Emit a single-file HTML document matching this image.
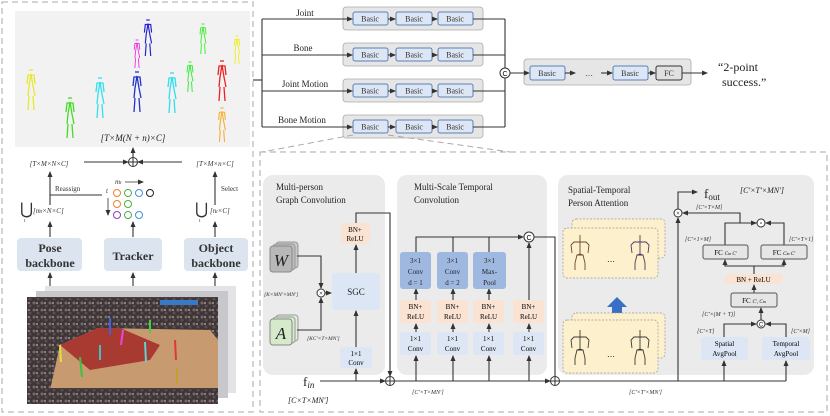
<!DOCTYPE html>
<html><head><meta charset="utf-8"><style>
html,body{margin:0;padding:0;background:#fff;}
svg{display:block;font-family:"Liberation Serif",serif;}
.t{font-size:9px;fill:#222}
.s{font-size:7px;fill:#333;font-style:italic}
.ln{stroke:#333;stroke-width:1.1;fill:none}
</style></head><body>
<svg width="830" height="416" viewBox="0 0 830 416" xmlns="http://www.w3.org/2000/svg">
<defs>
<marker id="a" markerWidth="6" markerHeight="6" refX="5" refY="3" orient="auto" markerUnits="userSpaceOnUse"><path d="M0,0.5 L6,3 L0,5.5z" fill="#333"/></marker>
<pattern id="crowd" width="8" height="7" patternUnits="userSpaceOnUse">
<rect width="8" height="7" fill="#3e3638"/><circle cx="2" cy="2" r="1.5" fill="#7a6a66"/><circle cx="6" cy="5" r="1.5" fill="#5a4e50"/><rect x="4" y="1" width="2" height="2" fill="#8a8080"/>
</pattern>
<g id="fig" fill="none" stroke-width="1.3">
<line x1="-2" y1="0" x2="2" y2="0"/>
<polyline points="-3,26 -2,16 0,4 2,16 4,26"/>
<polyline points="-4,14 -3,5 3,5 4,14"/>
<line x1="-2" y1="26" x2="-3" y2="40"/><line x1="2" y1="26" x2="3" y2="40"/>
</g>
<g id="sk" fill="none" stroke-width="0.9">
<polyline points="0,0 0,6 0,19"/><polyline points="-8,18 -9,10 -6,7 6,7 9,10 8,18"/>
<polyline points="-5,35 -5,28 -3,20 3,20 5,28 5,35"/><line x1="0" y1="19" x2="-3" y2="20"/><line x1="0" y1="19" x2="3" y2="20"/>
</g>
</defs>

<rect x="2" y="2" width="251" height="410" fill="none" stroke="#aaa" stroke-dasharray="6,4"/>
<rect x="15" y="11" width="235" height="136" fill="#f2f2f2"/>
<g transform="translate(31,70)" stroke="#e8e830"><use href="#fig"/></g>
<g transform="translate(70,98)" stroke="#44dd22"><use href="#fig"/></g>
<g transform="translate(100,78)" stroke="#33e0f0"><use href="#fig"/></g>
<g transform="translate(137,72)" stroke="#2233cc"><use href="#fig"/></g>
<g transform="translate(137,40) scale(0.7)" stroke="#ee33dd"><use href="#fig"/></g>
<g transform="translate(148,20) scale(0.9)" stroke="#2222cc"><use href="#fig"/></g>
<g transform="translate(172,73)" stroke="#33ddee"><use href="#fig"/></g>
<g transform="translate(190,62) scale(0.75)" stroke="#33ee33"><use href="#fig"/></g>
<g transform="translate(203,24) scale(0.75)" stroke="#44ee33"><use href="#fig"/></g>
<g transform="translate(237,36) scale(0.7)" stroke="#eeee22"><use href="#fig"/></g>
<g transform="translate(222,61)" stroke="#ee2222"><use href="#fig"/></g>
<g transform="translate(222,108) scale(0.85)" stroke="#f5b030"><use href="#fig"/></g>
<text x="133" y="141" class="t" text-anchor="middle" font-style="italic">[T×M(N + n)×C]</text>

<circle cx="133" cy="162" r="4.5" fill="#fff" stroke="#333"/><path d="M128.5,162h9M133,157.5v9" stroke="#333"/>
<line x1="133" y1="157" x2="133" y2="148" class="ln" marker-end="url(#a)"/>
<line x1="84" y1="162" x2="128" y2="162" class="ln" marker-end="url(#a)"/>
<line x1="182" y1="162" x2="138" y2="162" class="ln" marker-end="url(#a)"/>
<text x="49" y="166" class="s" text-anchor="middle">[T×M×N×C]</text>
<text x="215" y="166" class="s" text-anchor="middle">[T×M×n×C]</text>
<line x1="50" y1="205" x2="50" y2="172" class="ln" marker-end="url(#a)"/>
<line x1="215" y1="205" x2="215" y2="172" class="ln" marker-end="url(#a)"/>
<polyline points="102,195 50,195" class="ln"/>
<text x="55" y="191" font-size="7" fill="#333">Reassign</text>
<text x="221" y="191" font-size="7" fill="#333">Select</text>
<text x="20" y="214" font-size="16" fill="#333">⋃</text><text x="24" y="222" font-size="5" fill="#333">t</text>
<text x="33" y="213" class="s">[m<tspan font-size="5">t</tspan>×N×C]</text>
<text x="195" y="214" font-size="16" fill="#333">⋃</text><text x="199" y="222" font-size="5" fill="#333">t</text>
<text x="210" y="213" class="s">[n<tspan font-size="5">t</tspan>×C]</text>
<text x="115" y="184" class="s">m<tspan font-size="5">t</tspan></text>
<line x1="125" y1="182" x2="143" y2="182" stroke="#333" stroke-width="0.8" marker-end="url(#a)"/>
<text x="106" y="193" class="s">t</text>
<line x1="108" y1="198" x2="108" y2="215" stroke="#333" stroke-width="0.8" marker-end="url(#a)"/>
<g fill="none" stroke-width="1">
<circle cx="117" cy="193" r="3.5" stroke="#f08030"/><circle cx="128" cy="193" r="3.5" stroke="#50b040"/><circle cx="139" cy="193" r="3.5" stroke="#4090e0"/><circle cx="150" cy="193" r="3.5" stroke="#222"/>
<circle cx="117" cy="204" r="3.5" stroke="#f08030"/><circle cx="128" cy="204" r="3.5" stroke="#50b040"/>
<circle cx="117" cy="215" r="3.5" stroke="#9040c0"/><circle cx="128" cy="215" r="3.5" stroke="#50b040"/><circle cx="139" cy="215" r="3.5" stroke="#4090e0"/>
</g>
<line x1="133" y1="237" x2="133" y2="222" class="ln" marker-end="url(#a)"/>
<line x1="50" y1="237" x2="50" y2="222" class="ln" marker-end="url(#a)"/>
<line x1="215" y1="237" x2="215" y2="222" class="ln" marker-end="url(#a)"/>
<rect x="17" y="238" width="65" height="33" rx="4" fill="#dce4f0"/>
<rect x="104" y="238" width="58" height="33" rx="4" fill="#dce4f0"/>
<rect x="184" y="238" width="64" height="33" rx="4" fill="#dce4f0"/>
<g font-size="12" font-weight="bold" fill="#333" text-anchor="middle">
<text x="50" y="252">Pose</text><text x="50" y="267">backbone</text>
<text x="133" y="260">Tracker</text>
<text x="216" y="252">Object</text><text x="216" y="267">backbone</text></g>
<line x1="50" y1="286" x2="50" y2="273" class="ln" marker-end="url(#a)"/>
<line x1="133" y1="286" x2="133" y2="273" class="ln" marker-end="url(#a)"/>
<line x1="215" y1="286" x2="215" y2="273" class="ln" marker-end="url(#a)"/>
<rect x="45" y="286" width="191" height="107" fill="#e4e4e6"/>
<rect x="36" y="291" width="192" height="107" fill="#c8c8cc"/>
<rect x="27" y="297" width="191" height="107" fill="url(#crowd)"/>
<polygon points="60,345 98,328 210,330 218,340 218,390 50,390" fill="#c89a70"/>
<polygon points="60,345 98,328 120,328 160,345 150,360 90,370" fill="#a83a32"/>
<rect x="27" y="388" width="191" height="16" fill="url(#crowd)"/>
<rect x="160" y="300" width="38" height="5" fill="#3a78c8"/>
<g stroke-width="2" fill="none">
<line x1="110" y1="318" x2="110" y2="335" stroke="#4060e0"/><line x1="150" y1="320" x2="150" y2="333" stroke="#40d040"/>
<line x1="123" y1="330" x2="121" y2="345" stroke="#ee44dd"/><line x1="100" y1="345" x2="100" y2="360" stroke="#40c0c0"/>
<line x1="80" y1="357" x2="82" y2="377" stroke="#40c040"/><line x1="145" y1="342" x2="146" y2="362" stroke="#60d0d0"/>
<line x1="175" y1="340" x2="176" y2="360" stroke="#e03a30"/><line x1="60" y1="345" x2="61" y2="362" stroke="#e0e040"/>
<line x1="177" y1="367" x2="177" y2="383" stroke="#c0a030"/></g>

<line x1="253" y1="80" x2="262" y2="80" class="ln"/>
<line x1="262" y1="19" x2="262" y2="127" class="ln"/>
<g font-size="9" fill="#222" text-anchor="middle">
<text x="305" y="16">Joint</text><text x="303" y="51">Bone</text><text x="305" y="87">Joint Motion</text><text x="302" y="123">Bone Motion</text></g>
<g id="row">
<rect x="343" y="7" width="140" height="23" rx="3" fill="#e6e6e6" stroke="#aaa" stroke-width="0.8"/>
<rect x="353" y="12" width="35" height="13" rx="2" fill="#dce6f4" stroke="#5a80b8"/>
<rect x="396" y="12" width="36" height="13" rx="2" fill="#dce6f4" stroke="#5a80b8"/>
<rect x="438" y="12" width="35" height="13" rx="2" fill="#dce6f4" stroke="#5a80b8"/>
<g font-size="8" fill="#333" text-anchor="middle"><text x="370" y="21.5">Basic</text><text x="414" y="21.5">Basic</text><text x="455" y="21.5">Basic</text></g>
<line x1="262" y1="19" x2="352" y2="19" class="ln" marker-end="url(#a)"/>
<line x1="388" y1="19" x2="395" y2="19" class="ln" marker-end="url(#a)"/>
<line x1="432" y1="19" x2="437" y2="19" class="ln" marker-end="url(#a)"/>
<line x1="473" y1="19" x2="505" y2="19" class="ln"/>
</g>
<use href="#row" y="36"/><use href="#row" y="72"/><use href="#row" y="108"/>
<line x1="505" y1="19" x2="505" y2="127" class="ln"/>
<circle cx="505" cy="73" r="5" fill="#fff" stroke="#333"/><text x="505" y="76" font-size="7" text-anchor="middle" font-family="Liberation Sans">C</text>
<rect x="524" y="59" width="167" height="26" rx="3" fill="#e6e6e6" stroke="#aaa" stroke-width="0.8"/>
<line x1="510" y1="73" x2="529" y2="73" class="ln" marker-end="url(#a)"/>
<rect x="530" y="66" width="35" height="14" rx="2" fill="#dce6f4" stroke="#5a80b8"/>
<rect x="613" y="66" width="35" height="14" rx="2" fill="#dce6f4" stroke="#5a80b8"/>
<rect x="656" y="66" width="26" height="14" rx="2" fill="#e0e0e0" stroke="#333"/>
<g font-size="8" fill="#333" text-anchor="middle"><text x="547" y="76">Basic</text><text x="630" y="76">Basic</text><text x="669" y="76">FC</text><text x="589" y="76">…</text></g>
<line x1="565" y1="73" x2="575" y2="73" class="ln" marker-end="url(#a)"/>
<line x1="601" y1="73" x2="612" y2="73" class="ln" marker-end="url(#a)"/>
<line x1="648" y1="73" x2="655" y2="73" class="ln" marker-end="url(#a)"/>
<line x1="682" y1="73" x2="707" y2="73" class="ln" marker-end="url(#a)"/>
<text x="718" y="71" font-size="12" fill="#222">“2-point</text>
<text x="722" y="86" font-size="12" fill="#222">success.”</text>

<line x1="353" y1="135" x2="262" y2="152" stroke="#aaa" stroke-dasharray="6,4"/>
<line x1="388" y1="135" x2="510" y2="152" stroke="#aaa" stroke-dasharray="6,4"/>
<rect x="260" y="152" width="567" height="260" fill="none" stroke="#aaa" stroke-dasharray="6,4"/>
<rect x="263" y="175" width="122" height="200" rx="10" fill="#ebebeb"/>
<rect x="397" y="175" width="150" height="200" rx="10" fill="#ebebeb"/>
<rect x="558" y="175" width="256" height="200" rx="10" fill="#ebebeb"/>
<text x="276" y="190" class="t">Multi-person</text><text x="276" y="203" class="t">Graph Convolution</text>
<text x="414" y="190" class="t">Multi-Scale Temporal</text><text x="414" y="203" class="t">Convolution</text>
<text x="568" y="193" class="t">Spatial-Temporal</text><text x="568" y="206" class="t">Person Attention</text>

<rect x="276" y="242" width="22" height="26" rx="3" fill="#c8c8c8" stroke="#999"/><rect x="273" y="244" width="22" height="26" rx="3" fill="#bdbdbd" stroke="#999"/><rect x="270" y="246" width="22" height="26" rx="3" fill="#b8b8b8" stroke="#888"/>
<text x="281" y="266" font-size="17" font-style="italic" text-anchor="middle" fill="#222">W</text>
<rect x="276" y="315" width="22" height="26" rx="3" fill="#e0f0d8" stroke="#999"/><rect x="273" y="317" width="22" height="26" rx="3" fill="#d8ecd0" stroke="#999"/><rect x="270" y="319" width="22" height="26" rx="3" fill="#d4eacb" stroke="#888"/>
<text x="281" y="339" font-size="17" font-style="italic" text-anchor="middle" fill="#222">A</text>
<polyline points="297,256 321,256 321,288" class="ln" marker-end="url(#a)"/>
<polyline points="297,330 321,330 321,298" class="ln" marker-end="url(#a)"/>
<circle cx="321" cy="293" r="4" fill="#fff" stroke="#333"/><text x="321" y="295.5" font-size="7" text-anchor="middle">×</text>
<line x1="325" y1="293" x2="331" y2="293" class="ln" marker-end="url(#a)"/>
<text x="264" y="296" font-size="5.5" font-style="italic" fill="#333">[K×MN'×MN']</text>
<text x="307" y="340" font-size="5.5" font-style="italic" fill="#333">[KC'×T×MN']</text>
<rect x="332" y="273" width="48" height="37" rx="4" fill="#dce6f4"/><text x="356" y="295" class="t" text-anchor="middle">SGC</text>
<rect x="341" y="223" width="29" height="21" rx="3" fill="#fbe3d3"/><text x="355" y="232" font-size="7" text-anchor="middle">BN+</text><text x="355" y="241" font-size="7" text-anchor="middle">ReLU</text>
<rect x="340" y="347" width="32" height="21" rx="3" fill="#dce6f4"/><text x="356" y="356" font-size="7" text-anchor="middle">1×1</text><text x="356" y="365" font-size="7" text-anchor="middle">Conv</text>
<line x1="356" y1="273" x2="356" y2="245" class="ln" marker-end="url(#a)"/>
<line x1="356" y1="347" x2="356" y2="311" class="ln" marker-end="url(#a)"/>
<line x1="356" y1="381" x2="356" y2="369" class="ln" marker-end="url(#a)"/>
<polyline points="356,223 356,213 390,213 390,376" class="ln" marker-end="url(#a)"/>
<text x="303" y="386" font-size="13" fill="#222">f<tspan font-size="9" font-style="italic" dy="2">in</tspan></text>
<text x="288" y="403" font-size="8" font-style="italic" fill="#222">[C×T×MN']</text>
<line x1="320" y1="381" x2="385" y2="381" class="ln" marker-end="url(#a)"/>
<circle cx="390" cy="381" r="4.5" fill="#fff" stroke="#333"/><path d="M385.5,381h9M390,376.5v9" stroke="#333"/>
<line x1="394.5" y1="381" x2="550" y2="381" class="ln" marker-end="url(#a)"/>
<text x="412" y="394" font-size="6" font-style="italic" fill="#333">[C'×T×MN']</text>
<circle cx="555" cy="381" r="4.5" fill="#fff" stroke="#333"/><path d="M550.5,381h9M555,376.5v9" stroke="#333"/>

<g id="col">
<rect x="400" y="332" width="31" height="23" rx="3" fill="#dce6f4"/><text x="415.5" y="341" font-size="7" text-anchor="middle">1×1</text><text x="415.5" y="351" font-size="7" text-anchor="middle">Conv</text>
<rect x="400" y="300" width="31" height="23" rx="3" fill="#fbe3d3"/><text x="415.5" y="309" font-size="7" text-anchor="middle">BN+</text><text x="415.5" y="319" font-size="7" text-anchor="middle">ReLU</text>
<line x1="416" y1="381" x2="416" y2="356" class="ln" marker-end="url(#a)"/>
<line x1="416" y1="332" x2="416" y2="324" class="ln" marker-end="url(#a)"/>
</g>
<use href="#col" x="37"/><use href="#col" x="73"/><use href="#col" x="113"/>
<line x1="416" y1="300" x2="416" y2="289" class="ln" marker-end="url(#a)"/>
<line x1="453" y1="300" x2="453" y2="289" class="ln" marker-end="url(#a)"/>
<line x1="489" y1="300" x2="489" y2="289" class="ln" marker-end="url(#a)"/>
<rect x="400" y="252" width="31" height="37" rx="3" fill="#9fb8e0"/>
<rect x="437" y="252" width="31" height="37" rx="3" fill="#9fb8e0"/>
<rect x="473" y="252" width="33" height="37" rx="3" fill="#9fb8e0"/>
<g font-size="7" text-anchor="middle" fill="#222">
<text x="415.5" y="263">3×1</text><text x="415.5" y="274">Conv</text><text x="415.5" y="285">d = 1</text>
<text x="452.5" y="263">3×1</text><text x="452.5" y="274">Conv</text><text x="452.5" y="285">d = 2</text>
<text x="489.5" y="263">3×1</text><text x="489.5" y="274">Max-</text><text x="489.5" y="285">Pool</text></g>
<polyline points="416,252 416,237 523,237" class="ln" marker-end="url(#a)"/>
<line x1="453" y1="252" x2="453" y2="237" class="ln"/><line x1="489" y1="252" x2="489" y2="237" class="ln"/>
<line x1="529" y1="300" x2="529" y2="243" class="ln" marker-end="url(#a)"/>
<circle cx="529" cy="237" r="5" fill="#fff" stroke="#333"/><text x="529" y="240" font-size="7" text-anchor="middle" font-family="Liberation Sans">C</text>
<polyline points="534,237 555,237 555,376" class="ln"/>

<rect x="572" y="219" width="93" height="39" rx="4" fill="#fdf0cc" stroke="#999" stroke-dasharray="2,1.5" stroke-width="0.7"/>
<rect x="563" y="228" width="95" height="50" rx="4" fill="#fdf0cc" stroke="#999" stroke-dasharray="2,1.5" stroke-width="0.7"/>
<use href="#sk" x="580" y="235" stroke="#6a4a2a"/><use href="#sk" x="640" y="235" stroke="#4a3a5a"/>
<text x="611" y="262" font-size="8" text-anchor="middle">…</text>
<path d="M612,315 v-8 h-5 l10,-10 l10,10 h-5 v8z" fill="#3a6fc8"/>
<rect x="572" y="313" width="93" height="45" rx="4" fill="#fdf0cc" stroke="#999" stroke-dasharray="2,1.5" stroke-width="0.7"/>
<rect x="563" y="320" width="95" height="53" rx="4" fill="#fdf0cc" stroke="#999" stroke-dasharray="2,1.5" stroke-width="0.7"/>
<use href="#sk" x="580" y="330" stroke="#3a3a3a"/><use href="#sk" x="640" y="330" stroke="#3a3a3a"/>
<text x="611" y="357" font-size="8" text-anchor="middle">…</text>

<line x1="555" y1="381" x2="786" y2="381" class="ln"/>
<line x1="678" y1="381" x2="678" y2="218" class="ln" marker-end="url(#a)"/>
<circle cx="678" cy="213" r="4" fill="#fff" stroke="#333"/><text x="678" y="215.5" font-size="7" text-anchor="middle">×</text>
<polyline points="678,209 678,192 697,192" class="ln" marker-end="url(#a)"/>
<text x="704" y="198" font-size="13" fill="#222">f<tspan font-size="9" dy="2">out</tspan></text>
<text x="740" y="193" font-size="8" font-style="italic" fill="#222">[C'×T'×MN']</text>
<text x="696" y="209" font-size="6" font-style="italic" fill="#333">[C'×T×M]</text>
<polyline points="757,223 740,223 740,213 683,213" class="ln" marker-end="url(#a)"/>
<circle cx="761" cy="223" r="4" fill="#fff" stroke="#333"/><circle cx="761" cy="223" r="0.8" fill="#333"/>
<polyline points="725,245 725,223 756,223" class="ln" marker-end="url(#a)"/>
<polyline points="784,245 784,223 766,223" class="ln" marker-end="url(#a)"/>
<text x="685" y="241" font-size="6" font-style="italic" fill="#333">[C'×1×M]</text>
<text x="789" y="241" font-size="6" font-style="italic" fill="#333">[C'×T×1]</text>
<rect x="703" y="245" width="45" height="14" rx="2" fill="#e6e6e6" stroke="#555"/>
<rect x="761" y="245" width="46" height="14" rx="2" fill="#e6e6e6" stroke="#555"/>
<text x="725.5" y="255" font-size="7" text-anchor="middle">FC <tspan font-style="italic" font-size="5">C<tspan font-size="4">in</tspan> C'</tspan></text>
<text x="784" y="255" font-size="7" text-anchor="middle">FC <tspan font-style="italic" font-size="5">C<tspan font-size="4">in</tspan> C'</tspan></text>
<polyline points="754,274 754,266 725,266 725,260" class="ln" marker-end="url(#a)"/>
<polyline points="754,266 784,266 784,260" class="ln" marker-end="url(#a)"/>
<rect x="725" y="274" width="57" height="10" rx="2" fill="#fbe3d3"/><text x="753.5" y="282" font-size="7" text-anchor="middle">BN + ReLU</text>
<line x1="754" y1="293" x2="754" y2="285" class="ln" marker-end="url(#a)"/>
<rect x="731" y="293" width="46" height="14" rx="2" fill="#e6e6e6" stroke="#555"/>
<text x="754" y="303" font-size="7" text-anchor="middle">FC <tspan font-style="italic" font-size="5">C', C<tspan font-size="4">in</tspan></tspan></text>
<text x="702" y="316" font-size="6" font-style="italic" fill="#333">[C'×(M + T)]</text>
<line x1="761" y1="320" x2="761" y2="308" class="ln" marker-end="url(#a)"/>
<circle cx="761" cy="324" r="4" fill="#fff" stroke="#333"/><text x="761" y="326.5" font-size="6" text-anchor="middle" font-family="Liberation Sans">C</text>
<polyline points="724,337 724,324 756,324" class="ln" marker-end="url(#a)"/>
<polyline points="786,337 786,324 766,324" class="ln" marker-end="url(#a)"/>
<text x="697" y="333" font-size="6" font-style="italic" fill="#333">[C'×T]</text>
<text x="791" y="333" font-size="6" font-style="italic" fill="#333">[C'×M]</text>
<rect x="701" y="337" width="47" height="23" rx="3" fill="#dce6f4"/>
<rect x="762" y="337" width="48" height="23" rx="3" fill="#dce6f4"/>
<g font-size="7" text-anchor="middle"><text x="724.5" y="346">Spatial</text><text x="724.5" y="356">AvgPool</text><text x="786" y="346">Temporal</text><text x="786" y="356">AvgPool</text></g>
<line x1="724" y1="381" x2="724" y2="361" class="ln" marker-end="url(#a)"/>
<line x1="786" y1="381" x2="786" y2="361" class="ln" marker-end="url(#a)"/>
<text x="629" y="394" font-size="6" font-style="italic" fill="#333">[C'×T'×MN']</text>
</svg>
</body></html>
